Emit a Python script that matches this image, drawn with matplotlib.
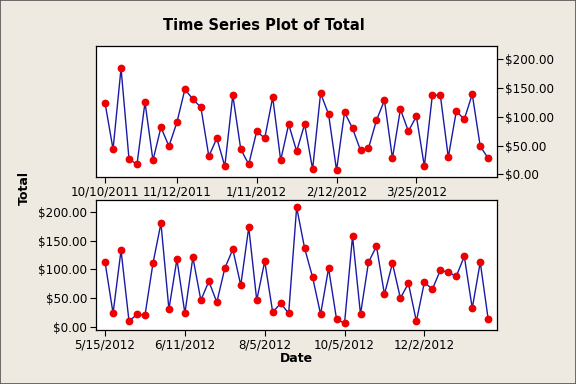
import matplotlib
matplotlib.use("Agg")
import matplotlib.pyplot as plt
from matplotlib.patches import Rectangle
from matplotlib.ticker import FuncFormatter

# ---- data ----
total_part1 = [123.5, 43.5, 184.3, 26.1, 17.4, 125.2, 24.3, 81.7, 48.7, 90.4,
               147.8, 130.4, 116.5, 31.3, 62.6, 13.9, 137.4, 43.5, 17.4, 74.8,
               62.6, 133.9, 24.3, 87.0, 40.0, 87.0, 8.7, 140.9, 104.3, 7.0,
               107.8, 80.0, 41.7, 45.2, 93.9, 128.7, 27.8, 113.0, 74.8, 100.9,
               13.9, 137.4, 137.4, 29.6, 109.6, 95.7, 139.1, 48.7, 27.8]
total_part2 = [112.6, 23.4, 133.6, 9.4, 21.7, 19.9, 110.8, 180.8, 30.4, 117.8,
               23.4, 121.3, 46.2, 79.4, 42.7, 102.1, 135.3, 72.4, 173.8, 46.2,
               114.3, 25.2, 40.9, 23.4, 208.7, 137.1, 86.4, 21.7, 102.1, 12.9,
               5.9, 158.0, 21.7, 112.6, 140.6, 56.6, 110.8, 49.7, 75.9, 9.4,
               77.6, 65.4, 98.6, 95.1, 88.1, 123.1, 32.2, 112.6, 12.9]
tick_idx_part1 = [0, 9, 19, 29, 39]
tick_lbl_part1 = ["10/10/2011", "11/12/2011", "1/11/2012", "2/12/2012", "3/25/2012"]
tick_idx_part2 = [0, 10, 20, 30, 40]
tick_lbl_part2 = ["5/15/2012", "6/11/2012", "8/5/2012", "10/5/2012", "12/2/2012"]
y_ticks = [0, 50, 100, 150, 200]

bg = "#EEEAE1"
fig = plt.figure(figsize=(5.76, 3.84), dpi=100, facecolor=bg)
fig.patches.append(Rectangle((0, 0), 1, 1, transform=fig.transFigure,
                             fill=False, edgecolor="#555555", lw=1.2))

W, H = 576, 384
def ax_rect(l, t, r, b):
    return [l / W, 1 - b / H, (r - l) / W, (b - t) / H]

fmt = FuncFormatter(lambda v, p: f"${v:.2f}")
tick_fs = 8.6

ax1 = fig.add_axes(ax_rect(95.5, 46, 497, 177))
ax2 = fig.add_axes(ax_rect(95.5, 199.7, 497, 330))

for ax, data, tidx, tlbl, ylim in [
        (ax1, total_part1, tick_idx_part1, tick_lbl_part1, (-4.7, 223)),
        (ax2, total_part2, tick_idx_part2, tick_lbl_part2, (-5.8, 222))]:
    x = list(range(len(data)))
    ax.plot(x, data, color="#1a1aa6", lw=1.0, zorder=2)
    ax.plot(x, data, ls="none", marker="o", ms=4.6, mfc="#ee0000",
            mec="#ee0000", zorder=3)
    ax.set_facecolor("white")
    ax.set_xlim(-1.2, 49.1)
    ax.set_ylim(*ylim)
    ax.set_xticks(tidx)
    ax.set_xticklabels(tlbl)
    ax.set_yticks(y_ticks)
    ax.yaxis.set_major_formatter(fmt)
    ax.tick_params(direction="out", length=4, width=0.8, labelsize=tick_fs,
                   pad=2, colors="black")
    for s in ax.spines.values():
        s.set_linewidth(0.9)
        s.set_color("black")

ax1.yaxis.tick_right()
ax1.yaxis.set_label_position("right")

fig.text(264 / W, 1 - 25 / H, "Time Series Plot of Total", ha="center",
         va="center", fontsize=10.5, fontweight="bold")
fig.text(24 / W, 1 - 188 / H, "Total", ha="center", va="center",
         rotation=90, fontsize=9, fontweight="bold")
fig.text(296 / W, 1 - 358 / H, "Date", ha="center", va="center",
         fontsize=9, fontweight="bold")

fig.savefig("out.png", dpi=100, facecolor=bg)
